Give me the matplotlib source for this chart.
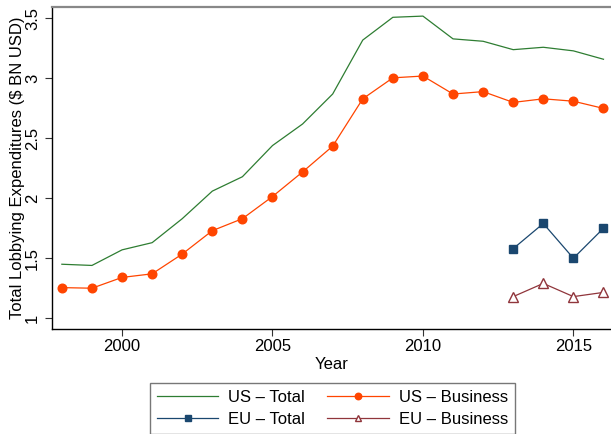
import numpy as np
import matplotlib
matplotlib.use("Agg")
import matplotlib.pyplot as plt

plt.rcParams['font.family'] = ['Liberation Sans', 'DejaVu Sans']

# values (billion USD)
years_us = list(range(1998, 2017))
us_total = [1.45, 1.44, 1.57, 1.63, 1.83, 2.06, 2.18, 2.44, 2.62, 2.87,
            3.32, 3.51, 3.52, 3.33, 3.31, 3.24, 3.26, 3.23, 3.16]
us_business = [1.255, 1.25, 1.34, 1.37, 1.535, 1.73, 1.83, 2.015, 2.22, 2.435,
               2.83, 3.005, 3.02, 2.87, 2.89, 2.80, 2.83, 2.81, 2.75]
years_eu = [2013, 2014, 2015, 2016]
eu_total = [1.58, 1.79, 1.50, 1.75]
eu_business = [1.18, 1.29, 1.18, 1.215]

yticks = [1, 1.5, 2, 2.5, 3, 3.5]
ytick_labels = ["1", "1.5", "2", "2.5", "3", "3.5"]
xticks = [2000, 2005, 2010, 2015]

green = '#2e7d32'
orange = '#ff4500'
navy = '#1a476f'
maroon = '#90353b'

fig = plt.figure(figsize=(6.11, 4.34), dpi=100)
ax = fig.add_axes([0.085, 0.242, 0.915, 0.743])

ax.plot(years_us, us_total, color=green, lw=0.9, label='US – Total')
ax.plot(years_us, us_business, color=orange, lw=0.9, marker='o', ms=6.2,
        label='US – Business')
ax.plot(years_eu, eu_total, color=navy, lw=0.9, marker='s', ms=6.2,
        label='EU – Total')
ax.plot(years_eu, eu_business, color=maroon, lw=0.9, marker='^', ms=6.5,
        mfc='white', mec=maroon, label='EU – Business')

ax.set_xlim(1997.67, 2016.25)
ax.set_ylim(0.91, 3.60)
ax.set_xticks(xticks)
ax.set_yticks(yticks)
ax.set_yticklabels(ytick_labels, rotation=90, va='center')
ax.tick_params(labelsize=12, length=5, width=0.8, color='#333333')
ax.tick_params(axis='x', pad=2.5)
ax.set_xlabel('Year', fontsize=12, labelpad=2)
ax.set_ylabel('Total Lobbying Expenditures ($ BN USD)', fontsize=12, labelpad=0)

ax.spines['right'].set_visible(False)
ax.spines['top'].set_color('#888888')
ax.spines['top'].set_linewidth(1.6)
ax.spines['left'].set_linewidth(1.0)
ax.spines['bottom'].set_linewidth(1.0)

# legend filled row by row, like the original
handles, labels = ax.get_legend_handles_labels()
order = [0, 2, 1, 3]
leg = fig.legend([handles[i] for i in order], [labels[i] for i in order],
                 ncol=2, loc='upper center',
                 bbox_to_anchor=(0.544, 0.1175), bbox_transform=fig.transFigure,
                 fontsize=12, frameon=True, fancybox=False, edgecolor='#555555',
                 handlelength=3.7, columnspacing=1.3, handletextpad=0.6,
                 labelspacing=0.45, borderpad=0.4, borderaxespad=0,
                 markerscale=0.75)
leg.get_frame().set_linewidth(1.0)

fig.savefig('out.png', dpi=100)
